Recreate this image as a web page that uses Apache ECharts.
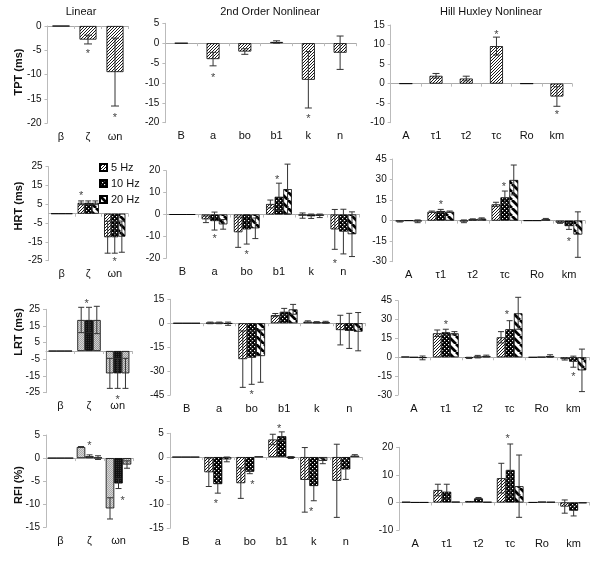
<!DOCTYPE html>
<html><head><meta charset="utf-8">
<script src="https://cdn.jsdelivr.net/npm/echarts@6/dist/echarts.min.js"></script>
<style>html,body{margin:0;padding:0;background:#fff}#c{width:600px;height:572px}</style>
</head><body><div id="c"></div><script>
const FONT = '"Liberation Sans", Arial, sans-serif';
const freqNames = ['5 Hz', '10 Hz', '20 Hz'];
const catLinear = ['β', 'ζ', 'ωn'];
const cat2nd = ['B', 'a', 'bo', 'b1', 'k', 'n'];
const catHH = ['A', 'τ1', 'τ2', 'τc', 'Ro', 'km'];
const colTitles = ['Linear', '2nd Order Nonlinear', 'Hill Huxley Nonlinear'];
const rowNames = ['TPT (ms)', 'HRT (ms)', 'LRT (ms)', 'RFI (%)'];

// y-axis [min, max, interval]
const axTPTLin = [-20, 0, 5], axTPT2nd = [-20, 5, 5], axTPTHH = [-10, 15, 5];
const axHRTLin = [-25, 25, 10], axHRT2nd = [-20, 20, 10], axHRTHH = [-30, 45, 15];
const axLRTLin = [-25, 25, 10], axLRT2nd = [-45, 15, 15], axLRTHH = [-30, 45, 15];
const axRFILin = [-15, 5, 5], axRFI2nd = [-15, 5, 5], axRFIHH = [-10, 20, 10];

// TPT (single series)
const tptLinVals = [[0, -2.8, -9.5]];
const tptLinErrs = [[0, 0.9, 7.0]];
const tptLinStars = [[1, 0, -5.2], [2, 0, -18.3]];
const tpt2ndVals = [[0, -4.0, -2.1, 0.3, -9.2, -2.4]];
const tpt2ndErrs = [[0, 1.7, 0.7, 0.3, 7.1, 4.2]];
const tpt2ndStars = [[1, 0, -8.0], [4, 0, -18.3]];
const tptHHVals = [[0, 2.0, 1.3, 9.6, 0, -3.3]];
const tptHHErrs = [[0, 0.6, 0.6, 2.3, 0, 2.5]];
const tptHHStars = [[3, 0, 13.1], [5, 0, -7.3]];

// HRT
const hrtLinVals = [[0, 5.8, -12.5], [0, 5.8, -12.5], [0, 5.8, -12.2]];
const hrtLinErrs = [[0, 1.0, 8.5], [0, 1.0, 8.5], [0, 1.0, 8.3]];
const hrtLinStars = [[1, 0, 10.8], [2, 1, -24.3]];
const hrt2ndVals = [[0, -2.2, -8.1, 4.8, -0.5, -6.8], [0, -3.0, -6.8, 8.1, -0.8, -7.8], [0, -4.5, -6.3, 11.6, -0.6, -9.0]];
const hrt2ndErrs = [[0, 1.5, 6.9, 1.8, 1.2, 9.1], [0, 4.1, 6.7, 6.2, 1.0, 10.2], [0, 2.2, 4.7, 11.4, 0.8, 10.2]];
const hrt2ndStars = [[1, 1, -9.8], [2, 1, -17.3], [3, 0.8, 17.3], [5, 0, -21.2]];
const hrtHHVals = [[-0.5, 6.5, -0.5, 11.9, 0, -1.5], [0, 7.0, 1.0, 17.0, 0, -4.0], [-0.5, 6.5, 1.5, 29.7, 1.0, -10.2]];
const hrtHHErrs = [[0.5, 0.5, 1.0, 1.5, 0, 0.5], [0, 1.2, 0.3, 4.6, 0, 2.4], [1.0, 0.5, 0.5, 10.9, 0.6, 16.6]];
const hrtHHStars = [[1, 1, 13.8], [3, 0.9, 26.5], [5, 1, -13.4]];

// LRT
const lrtLinVals = [[0, 18.6, -13.4], [0, 18.6, -13.4], [0, 18.6, -13.4]];
const lrtLinErrs = [[0, 7.6, 9.0], [0, 7.6, 9.0], [0, 8.2, 9.0]];
const lrtLinStars = [[1, 0.7, 30.2], [2, 1, -27.8]];
const lrt2ndVals = [[0, 0.2, -22.5, 5.1, 1.0, -4.3], [0, 0.2, -21.6, 7.2, 0.6, -4.8], [0, -0.3, -20.6, 8.7, 0.6, -5.3]];
const lrt2ndErrs = [[0, 0.5, 17.7, 1.0, 0.5, 9.3], [0, 0.5, 16.7, 2.1, 0.4, 11.0], [0, 1.0, 16.4, 3.1, 0.6, 12.0]];
const lrt2ndStars = [[2, 1, -43]];
const lrtHHVals = [[0.5, 19.1, -0.5, 15.9, 0, -1.5], [0, 19.9, 0.5, 22.3, 0.3, -3.5], [-0.5, 19.1, 1.0, 35.0, 1.0, -10.4]];
const lrtHHErrs = [[0, 2.6, 0.5, 4.5, 0, 0.7], [0, 2.4, 1.0, 6.8, 0, 4.4], [1.5, 1.3, 0.7, 12.7, 1.0, 16.9]];
const lrtHHStars = [[1, 1, 27.8], [3, 0.7, 35.8], [5, 1, -13.5]];

// RFI
const rfiLinVals = [[0, 2.4, -10.9], [0, 0.4, -5.5], [0, 0.1, -1.4]];
const rfiLinErrs = [[0, 0.1, 2.3], [0, 0.3, 1.1], [0, 0.4, 0.8]];
const rfiLinStars = [[1, 1, 3.3], [2, 1.5, -8.7]];
const rfi2ndVals = [[0, -3.2, -5.5, 3.7, -4.8, -5.0], [0, -5.7, -3.1, 4.4, -6.1, -2.6], [0, -0.5, 0.1, -0.1, -0.8, 0.3]];
const rfi2ndErrs = [[0, 3.0, 3.2, 1.1, 6.8, 7.7], [0, 1.9, 0.4, 0.9, 3.1, 2.1], [0, 0.5, 0, 0.2, 0.6, 0.2]];
const rfi2ndStars = [[1, 0.8, -9.2], [2, 1.3, -5.2], [3, 0.7, 6.6], [4, 0.7, -11.0]];
const rfiHHVals = [[0.2, 4.5, 0.5, 8.8, 0, -1.5], [0, 3.9, 1.5, 11.8, 0.3, -3.0], [0, 0.3, 0.2, 5.9, 0.2, -0.3]];
const rfiHHErrs = [[0, 2.1, 0, 5.4, 0, 2.4], [0, 2.7, 0.3, 9.4, 0, 1.9], [0, 0, 0, 11.3, 0, 0]];
const rfiHHStars = [[3, 0.7, 24.1]];

const panelDefs = [
  {cats: catLinear, vals: tptLinVals, errs: tptLinErrs, stars: tptLinStars, ax: axTPTLin},
  {cats: cat2nd, vals: tpt2ndVals, errs: tpt2ndErrs, stars: tpt2ndStars, ax: axTPT2nd},
  {cats: catHH, vals: tptHHVals, errs: tptHHErrs, stars: tptHHStars, ax: axTPTHH},
  {cats: catLinear, vals: hrtLinVals, errs: hrtLinErrs, stars: hrtLinStars, ax: axHRTLin},
  {cats: cat2nd, vals: hrt2ndVals, errs: hrt2ndErrs, stars: hrt2ndStars, ax: axHRT2nd},
  {cats: catHH, vals: hrtHHVals, errs: hrtHHErrs, stars: hrtHHStars, ax: axHRTHH},
  {cats: catLinear, vals: lrtLinVals, errs: lrtLinErrs, stars: lrtLinStars, ax: axLRTLin},
  {cats: cat2nd, vals: lrt2ndVals, errs: lrt2ndErrs, stars: lrt2ndStars, ax: axLRT2nd},
  {cats: catHH, vals: lrtHHVals, errs: lrtHHErrs, stars: lrtHHStars, ax: axLRTHH},
  {cats: catLinear, vals: rfiLinVals, errs: rfiLinErrs, stars: rfiLinStars, ax: axRFILin},
  {cats: cat2nd, vals: rfi2ndVals, errs: rfi2ndErrs, stars: rfi2ndStars, ax: axRFI2nd},
  {cats: catHH, vals: rfiHHVals, errs: rfiHHErrs, stars: rfiHHStars, ax: axRFIHH}
];

// layout (pixels) and styling per panel
const layout = [
  {left: 47.5, right: 128.5, top: 26, bottom: 123, barW: 17, cap: 4, pat: 'bw'},
  {left: 165.4, right: 356, top: 23.3, bottom: 122.7, barW: 13, cap: 3.5, pat: 'bw'},
  {left: 390.7, right: 572, top: 25, bottom: 122.7, barW: 13, cap: 3.5, pat: 'bw'},
  {left: 48.5, right: 128, top: 166.7, bottom: 260.7, barW: 7.1, cap: 3, pat: 'bw'},
  {left: 166.2, right: 359.5, top: 170.7, bottom: 258.3, barW: 8.6, cap: 3, pat: 'bw'},
  {left: 392.7, right: 585, top: 159, bottom: 261.7, barW: 8.9, cap: 3, pat: 'bw'},
  {left: 46, right: 132, top: 309.3, bottom: 392.7, barW: 7.8, cap: 3, pat: 'grey'},
  {left: 170.4, right: 365.5, top: 299.3, bottom: 395, barW: 8.9, cap: 3, pat: 'bw'},
  {left: 398, right: 589.3, top: 300.7, bottom: 395, barW: 8.6, cap: 3, pat: 'bw'},
  {left: 46, right: 133, top: 435, bottom: 527.3, barW: 8.5, cap: 3, pat: 'grey'},
  {left: 169.8, right: 361.8, top: 433.3, bottom: 528.3, barW: 9, cap: 3, pat: 'bw'},
  {left: 399.2, right: 589.5, top: 447.3, bottom: 530, barW: 8.9, cap: 3, pat: 'bw'}
];

function makePattern(kind) {
  const c = document.createElement('canvas');
  let s;
  if (kind === 'hatch') {
    s = 6; c.width = c.height = s;
    const g = c.getContext('2d');
    g.fillStyle = '#fff'; g.fillRect(0, 0, s, s);
    g.strokeStyle = '#000'; g.lineWidth = 0.9; g.beginPath();
    for (let k = -s; k <= 2 * s; k += 3) { g.moveTo(k, s); g.lineTo(k + s, 0); }
    g.stroke();
  } else if (kind === 'dots') {
    s = 4; c.width = c.height = s;
    const g = c.getContext('2d');
    g.fillStyle = '#000'; g.fillRect(0, 0, s, s);
    g.fillStyle = '#fff'; g.fillRect(0, 0, 1.2, 1.2); g.fillRect(2, 2, 1.2, 1.2);
  } else if (kind === 'stripe') {
    s = 8; c.width = c.height = s;
    const g = c.getContext('2d');
    g.fillStyle = '#fff'; g.fillRect(0, 0, s, s);
    g.strokeStyle = '#000'; g.lineWidth = 2.8; g.beginPath();
    for (let k = -s; k <= s; k += s) { g.moveTo(k, 0); g.lineTo(k + s, s); }
    g.stroke();
  } else if (kind === 'g5') {
    s = 2; c.width = c.height = s;
    const g = c.getContext('2d');
    g.fillStyle = '#d6d6d6'; g.fillRect(0, 0, s, s);
    g.fillStyle = '#a8a8a8'; g.fillRect(0, 0, 1, 1); g.fillRect(1, 1, 1, 1);
  } else if (kind === 'g10') {
    s = 2; c.width = c.height = s;
    const g = c.getContext('2d');
    g.fillStyle = '#111'; g.fillRect(0, 0, s, s);
    g.fillStyle = '#333'; g.fillRect(0, 0, 1, 1);
  } else {
    s = 2; c.width = c.height = s;
    const g = c.getContext('2d');
    g.fillStyle = '#999'; g.fillRect(0, 0, s, s);
    g.fillStyle = '#cfcfcf'; g.fillRect(0, 0, 1, 1); g.fillRect(1, 1, 1, 1);
  }
  return {image: c, repeat: 'repeat'};
}
const patterns = {
  bw: [makePattern('hatch'), makePattern('dots'), makePattern('stripe')],
  grey: [makePattern('g5'), makePattern('g10'), makePattern('g20')]
};

const option = {
  animation: false,
  backgroundColor: '#fff',
  grid: [], xAxis: [], yAxis: [], series: [],
  legend: {
    data: freqNames, orient: 'vertical', left: 94, top: 157,
    itemWidth: 7, itemHeight: 7, itemGap: 5, icon: 'rect', selectedMode: false,
    textStyle: {fontSize: 11, color: '#111', fontFamily: FONT, padding: [0, 0, 0, -1]}
  },
  graphic: []
};

const txtStyle = (text, font) => ({text, font, fill: '#111', align: 'center', verticalAlign: 'middle', textAlign: 'center', textVerticalAlign: 'middle'});
const titleX = [81, 270, 491];
colTitles.forEach((t, i) => option.graphic.push({type: 'text', x: titleX[i], y: 12, style: txtStyle(t, '11px ' + FONT)}));
const nameY = [72, 206, 332, 485];
rowNames.forEach((t, i) => option.graphic.push({type: 'text', x: 19, y: nameY[i], rotation: Math.PI / 2, style: txtStyle(t, 'bold 11px ' + FONT)}));

panelDefs.forEach((p, i) => {
  const L = layout[i];
  option.grid.push({left: L.left, top: L.top, width: L.right - L.left, height: L.bottom - L.top, outerBoundsMode: 'none'});
  option.xAxis.push({type: 'category', gridIndex: i, data: p.cats, position: 'bottom',
    axisLine: {show: false, onZero: false}, axisTick: {show: false},
    axisLabel: {fontSize: 11, color: '#111', fontFamily: FONT, margin: 8}});
  option.xAxis.push({type: 'category', gridIndex: i, data: p.cats, position: 'bottom',
    axisLine: {show: true, onZero: true, lineStyle: {color: '#aaa', width: 1}},
    axisTick: {show: true, length: 3, lineStyle: {color: '#bbb'}},
    axisLabel: {show: false}});
  option.yAxis.push({type: 'value', gridIndex: i, min: p.ax[0], max: p.ax[1], interval: p.ax[2],
    axisLine: {show: true, lineStyle: {color: '#bbb'}},
    axisTick: {show: true, length: 3, lineStyle: {color: '#bbb'}},
    splitLine: {show: false},
    axisLabel: {fontSize: 10, color: '#111', fontFamily: FONT, margin: 6}});
  const n = p.vals.length;
  p.vals.forEach((v, s) => {
    option.series.push({type: 'bar', name: freqNames[s], xAxisIndex: 2 * i, yAxisIndex: i,
      data: v, barWidth: L.barW, barGap: '0%',
      itemStyle: {color: patterns[L.pat][s], borderColor: '#000', borderWidth: 0.8},
      emphasis: {disabled: true}, z: 2});
  });
  const errData = [];
  p.errs.forEach((e, s) => e.forEach((d, c) => { if (d > 0) errData.push([c, s, p.vals[s][c] - d, p.vals[s][c] + d]); }));
  option.series.push({type: 'custom', xAxisIndex: 2 * i, yAxisIndex: i, z: 5, silent: true,
    encode: {x: 0, y: [2, 3]}, data: errData,
    renderItem: (params, api) => {
      const c = api.value(0), s = api.value(1);
      const lo = api.coord([c, api.value(2)]), hi = api.coord([c, api.value(3)]);
      const x = lo[0] + (s - (n - 1) / 2) * L.barW;
      const st = {stroke: '#333', lineWidth: 1};
      return {type: 'group', children: [
        {type: 'line', shape: {x1: x, y1: lo[1], x2: x, y2: hi[1]}, style: st},
        {type: 'line', shape: {x1: x - L.cap, y1: lo[1], x2: x + L.cap, y2: lo[1]}, style: st},
        {type: 'line', shape: {x1: x - L.cap, y1: hi[1], x2: x + L.cap, y2: hi[1]}, style: st}
      ]};
    }});
  option.series.push({type: 'custom', xAxisIndex: 2 * i, yAxisIndex: i, z: 6, silent: true,
    encode: {x: 0, y: 2}, data: p.stars,
    renderItem: (params, api) => {
      const c = api.value(0), s = api.value(1);
      const pt = api.coord([c, api.value(2)]);
      const x = pt[0] + (s - (n - 1) / 2) * L.barW;
      return {type: 'text', x: x, y: pt[1] + 3, style: {text: '*', font: '11px ' + FONT, fill: '#444',
        align: 'center', verticalAlign: 'middle', textAlign: 'center', textVerticalAlign: 'middle'}};
    }});
});

const chart = echarts.init(document.getElementById('c'), null, {renderer: 'canvas'});
chart.setOption(option);
</script></body></html>
